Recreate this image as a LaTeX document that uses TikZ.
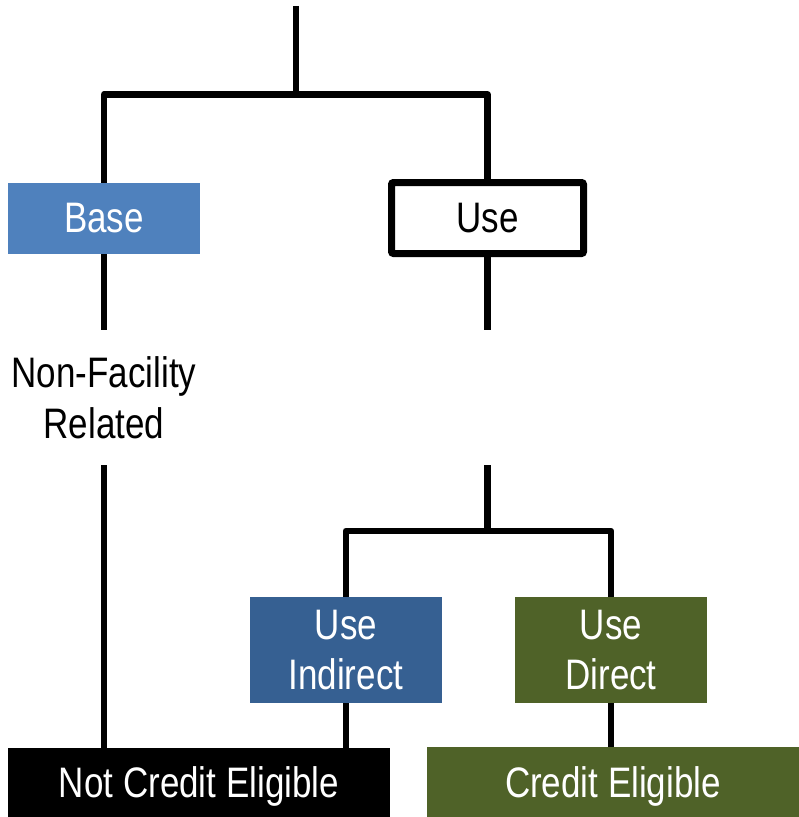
\documentclass[tikz,border=0pt]{standalone}
\usepackage{fontspec}
\setmainfont[FakeStretch=0.82]{Liberation Sans}
\definecolor{baseblue}{HTML}{4F81BD}
\definecolor{darkblue}{HTML}{366092}
\definecolor{olive}{HTML}{4F6228}
\begin{document}
\begin{tikzpicture}[x=0.75pt,y=-0.75pt,
  conn/.style={line width=4.9pt,line join=round,draw=black},
  fillbox/.style={draw=none,inner sep=0pt,text=white,align=center,font=\fontsize{32}{38}\selectfont},
  plaintext/.style={inner sep=0pt,align=center,font=\fontsize{32}{38}\selectfont}]
\useasboundingbox (0,0) rectangle (799,817);
% boxes
\node[fillbox,fill=baseblue,minimum width=192*0.75pt,minimum height=71*0.75pt] (base) at (104,218.5) {Base};
\node[plaintext,draw=black,line width=5.25pt,rounded corners=1.5pt,fill=white,minimum width=192*0.75pt,minimum height=71*0.75pt] (use) at (487.5,218) {Use};
\node[plaintext] (nf) at (104,398) {Non-Facility\\Related};
\node[fillbox,fill=darkblue,minimum width=191.7*0.75pt,minimum height=106*0.75pt] (ui) at (345.9,650) {Use\\Indirect};
\node[fillbox,fill=olive,minimum width=192*0.75pt,minimum height=106*0.75pt] (ud) at (611,650) {Use\\Direct};
\node[fillbox,fill=black,text depth=0pt,minimum width=382*0.75pt,minimum height=69*0.75pt] (nce) at (199,782.5) {Not Credit Eligible};
\node[fillbox,fill=olive,text depth=0pt,minimum width=372*0.75pt,minimum height=70*0.75pt] (ce) at (613,782) {Credit Eligible};
% coordinates
\coordinate (top) at (296,6);
\coordinate (j1) at (296,94.5);
\coordinate (a1) at (104,330);
\coordinate (a2) at (104,465);
\coordinate (b1) at (487.5,330);
\coordinate (b2) at (487.5,465);
\coordinate (j2) at (487.5,531);
% connectors
\draw[conn] (top) -- (j1);
\draw[conn] (base.north) |- (j1) -| (use.north);
\draw[conn] (base.south) -- (a1);
\draw[conn] (a2) -- (a2 |- nce.north);
\draw[conn] (use.south) -- (b1);
\draw[conn] (b2) -- (j2);
\draw[conn] (ui.north) |- (j2) -| (ud.north);
\draw[conn] (ui.south) -- (ui.south |- nce.north);
\draw[conn] (ud.south) -- (ud.south |- ce.north);
\end{tikzpicture}
\end{document}
